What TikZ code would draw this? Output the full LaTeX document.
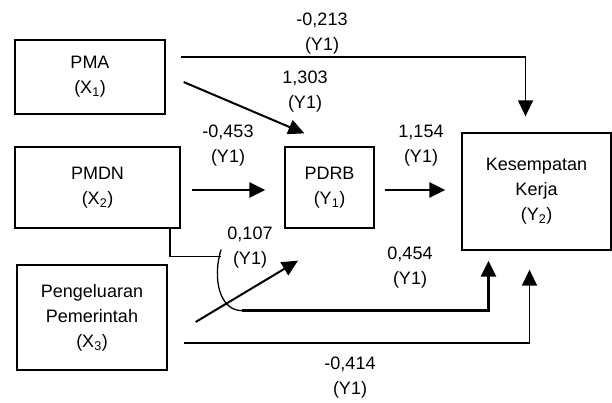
\documentclass[tikz,border=0pt]{standalone}
\usepackage{fontspec}
\setsansfont{Liberation Sans}
\usetikzlibrary{arrows.meta,calc,positioning}

\begin{document}
\begin{tikzpicture}[x=1pt, y=-1pt, font=\sffamily\fontsize{18}{25}\selectfont,
    var/.style={draw, line width=1.3pt, align=center, inner sep=0pt},
    coef/.style={align=center, inner sep=0pt},
    tip/.style={-{Triangle[length=16pt, width=15pt]}},
    thinarr/.style={tip, line width=1.4pt},
    thickarr/.style={tip, line width=2.4pt}]

\useasboundingbox (0,0) rectangle (612,403);

% ==================== VARIABLES ====================
\node[var, minimum width=150pt, minimum height=74pt]  (pma)  at (90,77)     {PMA\\(X\textsubscript{1})};
\node[var, minimum width=165pt, minimum height=81pt]  (pmdn) at (97.5,187.5) {PMDN\\(X\textsubscript{2})};
\node[var, minimum width=150pt, minimum height=105pt] (pp)   at (92,317.5)  {Pengeluaran\\Pemerintah\\(X\textsubscript{3})};
\node[var, minimum width=89pt,  minimum height=81pt]  (pdrb) at (329.5,187.5) {PDRB\\(Y\textsubscript{1})};
\node[var, minimum width=149pt, minimum height=117pt] (kk)   at (536.5,191.5) {Kesempatan\\Kerja\\(Y\textsubscript{2})};

% ==================== PATHS ====================
% PMA -> Kesempatan Kerja
\draw[thinarr] ($(pma.east)+(15,-20)$) -| ($(kk.north)+(-11,-16)$);
% PMA -> PDRB
\draw[thinarr, line width=2pt] ($(pma.east)+(18,5)$) -- ($(pdrb.north west)+(20,-13)$);
% PMDN -> PDRB
\draw[thickarr] ($(pmdn.east)+(11,2.5)$) -- ($(pdrb.west)+(-19,2.5)$);
% PDRB -> Kesempatan Kerja
\draw[thickarr] ($(pdrb.east)+(10,2.5)$) -- ($(kk.west)+(-16,-1.5)$);

% PMDN -> Kesempatan Kerja (with hop)
\coordinate (hop) at ($(pmdn.south)+(123.5,28)$);
\draw[line width=1.3pt] ($(pmdn.south)+(72.5,0)$) |- (hop);
\draw[line width=1.3pt] ($(hop)+(0,-7)$) .. controls ($(hop)+(-9,23)$) and ($(hop)+(-1,54)$) .. ($(hop)+(21,54)$) coordinate (hopend);
\draw[thickarr] (hopend) -| ($(kk.south)+(-48,10)$);

% Pengeluaran -> PDRB
\draw[thinarr, line width=2pt] ($(pp.east)+(28,4.5)$) -- ($(pdrb.south)+(-31.5,32)$);
% Pengeluaran -> Kesempatan Kerja
\draw[thinarr, line width=1.7pt] ($(pp.east)+(16,25.5)$) -| ($(kk.south)+(-7,19)$);

% ==================== COEFFICIENTS ====================
\node[coef] (c1) at (322,33.5) {-0,213\\(Y1)};
\node[coef] (c2) at (305,92)   {1,303\\(Y1)};
\node[coef] (c3) at (228,146)  {-0,453\\(Y1)};
\node[coef] (c4) at (421,146)  {1,154\\(Y1)};
\node[coef] (c5) at (250,248)  {0,107\\(Y1)};
\node[coef] (c6) at (410,268)  {0,454\\(Y1)};
\node[coef] (c7) at (350,378)  {-0,414\\(Y1)};

\end{tikzpicture}
\end{document}
